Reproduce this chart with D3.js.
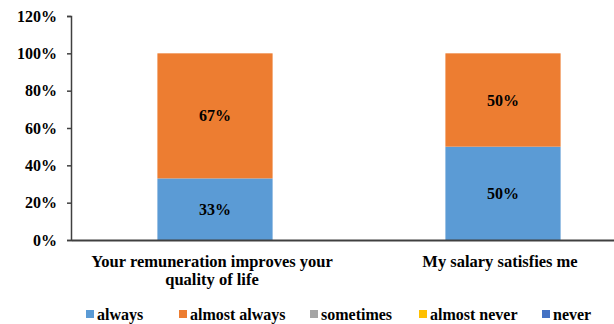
<!DOCTYPE html>
<html>
<head>
<meta charset="utf-8">
<script src="https://cdn.jsdelivr.net/npm/d3@7"></script>
<style>
  html, body { margin: 0; padding: 0; background: #fff; }
  svg { display: block; }
</style>
</head>
<body>
<script>
// Survey items and answer shares
const categories = ["Your remuneration improves your quality of life", "My salary satisfies me"];
const categoryLines = [["Your remuneration improves your", "quality of life"], ["My salary satisfies me"]];
const seriesNames = ["always", "almost always", "sometimes", "almost never", "never"];
const always = [0.33, 0.50];
const almostAlways = [0.67, 0.50];
const sometimes = [0, 0];
const almostNever = [0, 0];
const never = [0, 0];
const seriesColors = ["#5B9BD5", "#ED7D31", "#A5A5A5", "#FFC000", "#4472C4"];
const yTicks = [0, 0.2, 0.4, 0.6, 0.8, 1.0, 1.2];

const W = 614, H = 324;
const FONT = "'Liberation Serif'";
const svg = d3.select("body").append("svg").attr("width", W).attr("height", H);

// Apply the serif bold label style to a text selection
function serif(sel, size) {
  return sel.style("font-family", FONT).style("font-weight", "bold")
    .style("font-size", size + "px").attr("fill", "#000");
}

const x = d3.scaleBand().domain(categories).range([71, 647]).paddingInner(0.6).paddingOuter(0.3);
const y = d3.scaleLinear().domain([0, 1.2]).range([240, 16]);

// Stack the series per category
const rows = categories.map((c, i) => ({
  cat: c,
  "always": always[i],
  "almost always": almostAlways[i],
  "sometimes": sometimes[i],
  "almost never": almostNever[i],
  "never": never[i]
}));
const stacked = d3.stack().keys(seriesNames)(rows);

const color = d3.scaleOrdinal().domain(seriesNames).range(seriesColors);

const layers = svg.append("g").selectAll("g").data(stacked).join("g")
  .attr("fill", d => color(d.key));

layers.selectAll("rect").data(d => d.map(p => ({p, key: d.key}))).join("rect")
  .attr("x", d => x(d.p.data.cat))
  .attr("width", x.bandwidth())
  .attr("y", d => y(d.p[1]))
  .attr("height", d => y(d.p[0]) - y(d.p[1]));

// Value labels inside non-empty segments
layers.selectAll("text").data(d => d.filter(p => p[1] - p[0] > 0).map(p => ({p, key: d.key}))).join("text")
  .attr("x", d => x(d.p.data.cat) + x.bandwidth() / 2)
  .attr("y", d => y((d.p[0] + d.p[1]) / 2))
  .attr("dy", "0.35em")
  .attr("text-anchor", "middle")
  .call(serif, 16)
  .text(d => Math.round((d.p[1] - d.p[0]) * 100) + "%");

// Y axis
const yAxis = svg.append("g").attr("transform", "translate(71,0)")
  .call(d3.axisLeft(y).tickValues(yTicks).tickFormat(d3.format(".0%")).tickSize(4).tickPadding(10));
yAxis.attr("font-family", null);
yAxis.select(".domain").attr("stroke", "#404040").attr("stroke-width", 1.5);
yAxis.selectAll(".tick line").attr("stroke", "#404040").attr("stroke-width", 1.5);
yAxis.selectAll(".tick text").call(serif, 16);

// X axis baseline
const xAxis = svg.append("g").attr("transform", "translate(0,240)")
  .call(d3.axisBottom(x).tickSize(0).tickFormat(""));
xAxis.select(".domain").attr("stroke", "#404040").attr("stroke-width", 2);

// Category labels, wrapped
const catLabels = svg.append("g").selectAll("text").data(categories).join("text")
  .attr("x", d => x(d) + x.bandwidth() / 2 - 3)
  .attr("y", 261)
  .attr("text-anchor", "middle")
  .call(serif, 16.5);
catLabels.each(function(d, i) {
  d3.select(this).selectAll("tspan").data(categoryLines[i]).join("tspan")
    .attr("x", x(d) + x.bandwidth() / 2 - 3)
    .attr("dy", (t, j) => j === 0 ? "0.35em" : 18.5)
    .text(t => t);
});

// Legend
const legendX = [86, 179, 310, 419, 542];
const legend = svg.append("g").selectAll("g").data(seriesNames).join("g")
  .attr("transform", (d, i) => `translate(${legendX[i]},314)`);
legend.append("rect").attr("x", 0).attr("y", -4).attr("width", 8).attr("height", 8).attr("fill", d => color(d));
legend.append("text").attr("x", 11).attr("y", 0.5).attr("dy", "0.35em").call(serif, 16).text(d => d);
</script>
</body>
</html>
